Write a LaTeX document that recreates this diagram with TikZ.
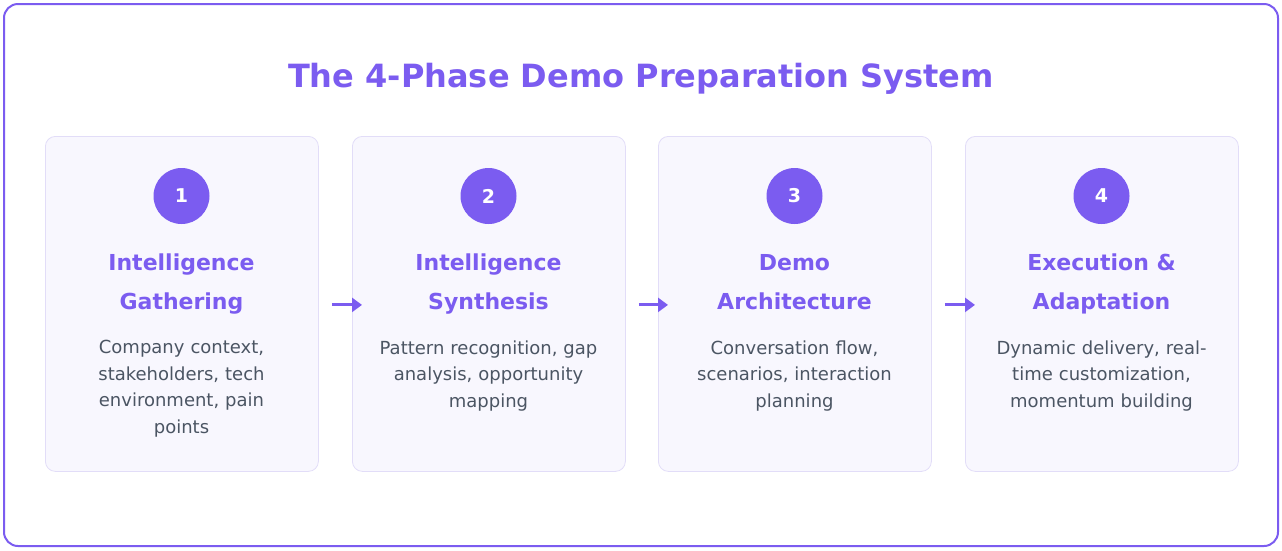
\documentclass[tikz,border=0pt]{standalone}
\usepackage{fontspec}
\setmainfont{DejaVu Sans}
\usetikzlibrary{arrows.meta}
\definecolor{pur}{HTML}{7B5CF0}
\definecolor{cardfill}{HTML}{F8F7FE}
\definecolor{cardline}{HTML}{E2DDF8}
\definecolor{txt}{HTML}{4B5563}
\begin{document}
\begin{tikzpicture}[x=1pt,y=-1pt,
  card/.style={draw=cardline,fill=cardfill,rounded corners=10pt,line width=0.8pt,minimum width=273pt,minimum height=335pt,anchor=north west},
  num/.style={circle,fill=pur,minimum size=56pt,inner sep=0pt,text=white,font=\fontsize{19}{22}\selectfont\bfseries},
  head/.style={text=pur,font=\fontsize{22}{38.5}\selectfont\bfseries,align=center},
  body/.style={text=txt,font=\fontsize{18}{26.5}\selectfont,align=center,text width=260pt,anchor=north},
  arr/.style={-{Triangle[length=10pt,width=14pt]},draw=pur,line width=3pt}]
\useasboundingbox (0,0) rectangle (1282,550);
\draw[pur,line width=2pt,rounded corners=14pt] (4,4) rectangle (1278,546);
\node[text=pur,font=\fontsize{32}{36}\selectfont\bfseries] (title) at (641,79) {The 4-Phase Demo Preparation System};
\foreach \i/\x/\h/\b in {1/45/{Intelligence\\Gathering}/{Company context,\\stakeholders, tech\\environment, pain\\points},
  2/352/{Intelligence\\Synthesis}/{Pattern recognition, gap\\analysis, opportunity\\mapping},
  3/658/{Demo\\Architecture}/{Conversation flow,\\scenarios, interaction\\planning},
  4/965/{Execution \&\\Adaptation}/{Dynamic delivery, real-\\time customization,\\momentum building}}{
  \node[card] (c\i) at (\x,136) {};
  \node[num] (n\i) at (\x+136.5,196) {\i};
  \node[head,anchor=base] (h\i) at (\x+136.5,309) {\h};
  \node[body] (b\i) at (\x+136.5,337) {\b};
}
\foreach \a/\b in {1/2,2/3,3/4}{
  \coordinate (s\a) at ([xshift=13pt,yshift=-1pt]c\a.east);
  \coordinate (e\a) at ([xshift=10pt,yshift=-1pt]c\b.west);
  \draw[arr] (s\a) -- (e\a);
}
\end{tikzpicture}
\end{document}
